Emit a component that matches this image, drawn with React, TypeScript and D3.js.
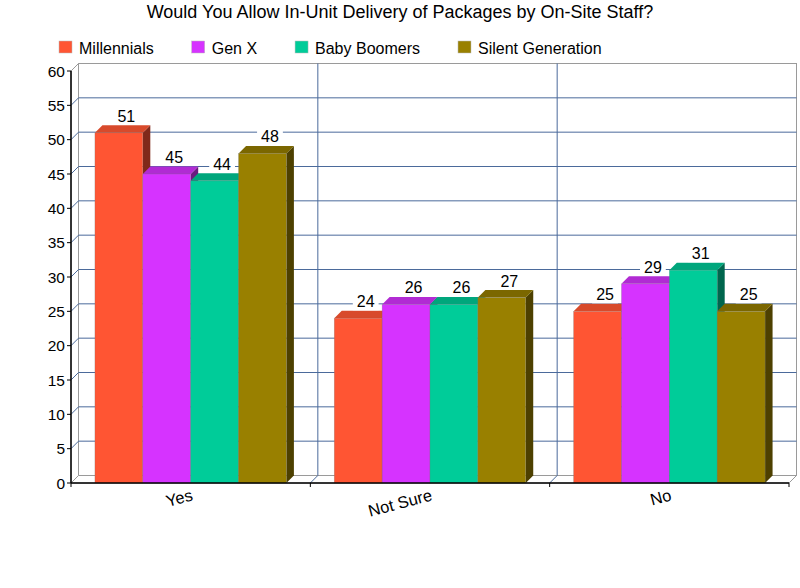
import { scaleBand, scaleLinear, range } from "d3";
import type { ReactElement } from "react";

const categories = ["Yes", "Not Sure", "No"];
const seriesNames = ["Millennials", "Gen X", "Baby Boomers", "Silent Generation"];
const millennials = [51, 24, 25];
const genX = [45, 26, 29];
const babyBoomers = [44, 26, 31];
const silentGeneration = [48, 27, 25];
const yTicks = range(0, 61, 5);

const seriesValues = [millennials, genX, babyBoomers, silentGeneration];

const faceColors = [
  { front: "#FF5533", top: "#D84A2B", side: "#80291A" },
  { front: "#D633FF", top: "#B12BD3", side: "#6B1A80" },
  { front: "#00CC99", top: "#00A67C", side: "#00664D" },
  { front: "#998000", top: "#7B6700", side: "#4D4000" },
];

const FONT = "'Liberation Sans', Arial, Helvetica, sans-serif";
const WIDTH = 800;
const HEIGHT = 588;
const DX = 7.5;
const DY = -7.5;

const plot = { left: 71, right: 789, top: 71, bottom: 483 } as const;

const measure = (text: string, size: number): number => {
  const canvas = document.createElement("canvas");
  const ctx = canvas.getContext("2d");
  if (ctx === null) return text.length * size * 0.55;
  ctx.font = `${size}px ${FONT}`;
  return ctx.measureText(text).width;
};

const pts = (list: Array<[number, number]>): string => list.map((p) => p.join(",")).join(" ");

export default function App(): ReactElement {
  const x0 = scaleBand<string>().domain(categories).range([plot.left, plot.right]).padding(0);
  const bw = x0.bandwidth();
  const x1 = scaleBand<string>()
    .domain(seriesNames)
    .range([bw * 0.1, bw * 0.9])
    .padding(0);
  const y = scaleLinear().domain([0, 60]).range([plot.bottom, plot.top]);

  const boundaries = categories.map((c) => (x0(c) ?? 0) + bw);

  const bars = categories.flatMap((cat, ci) =>
    seriesNames.map((name, si) => {
      const value = seriesValues[si][ci];
      const x = (x0(cat) ?? 0) + (x1(name) ?? 0);
      return { key: `${cat}-${name}`, x, w: x1.bandwidth(), yv: y(value), value, si };
    }),
  );

  // legend layout
  let lx = 59;
  const legend = seriesNames.map((name, i) => {
    const item = { name, x: lx, color: faceColors[i].front };
    lx += 20 + measure(name, 16) + 38;
    return item;
  });

  const gridBlue = "#4B6A9B";
  const wallGray = "#9A9A9A";

  return (
    <svg
      width={WIDTH}
      height={HEIGHT}
      viewBox={`0 0 ${WIDTH} ${HEIGHT}`}
      style={{ position: "absolute", left: 0, top: 0, background: "#ffffff" }}
      fontFamily={FONT}
    >
      <rect x={0} y={0} width={WIDTH} height={HEIGHT} fill="#ffffff" />

      <text x={400} y={18} textAnchor="middle" fontSize={18} fill="#000">
        Would You Allow In-Unit Delivery of Packages by On-Site Staff?
      </text>

      {legend.map((item) => (
        <g key={item.name}>
          <rect x={item.x} y={41} width={13} height={12} fill={item.color} stroke="#bbbbbb" strokeWidth={0.5} />
          <text x={item.x + 20} y={53.5} fontSize={16} fill="#000">
            {item.name}
          </text>
        </g>
      ))}

      {/* walls */}
      <rect
        x={plot.left + DX}
        y={plot.top + DY}
        width={plot.right - plot.left}
        height={plot.bottom - plot.top}
        fill="#ffffff"
        stroke={wallGray}
      />
      <polygon
        points={pts([
          [plot.left, plot.top],
          [plot.left + DX, plot.top + DY],
          [plot.left + DX, plot.bottom + DY],
          [plot.left, plot.bottom],
        ])}
        fill="#ffffff"
        stroke={wallGray}
      />
      <polygon
        points={pts([
          [plot.left, plot.bottom],
          [plot.left + DX, plot.bottom + DY],
          [plot.right + DX, plot.bottom + DY],
          [plot.right, plot.bottom],
        ])}
        fill="#ffffff"
        stroke={wallGray}
      />

      {yTicks
        .filter((t) => t > 0 && t < 60)
        .map((t) => (
          <g key={`grid-${t}`}>
            <line
              x1={plot.left + DX}
              x2={plot.right + DX}
              y1={y(t) + DY}
              y2={y(t) + DY}
              stroke={gridBlue}
              strokeWidth={1}
            />
            <line x1={plot.left} x2={plot.left + DX} y1={y(t)} y2={y(t) + DY} stroke={gridBlue} strokeWidth={1} />
          </g>
        ))}

      {boundaries.map((b, i) => (
        <g key={`vb-${i}`}>
          {i < boundaries.length - 1 && (
            <line x1={b + DX} x2={b + DX} y1={plot.top + DY} y2={plot.bottom + DY} stroke={gridBlue} />
          )}
          <line x1={b} x2={b + DX} y1={plot.bottom} y2={plot.bottom + DY} stroke={i < boundaries.length - 1 ? gridBlue : wallGray} />
          <line x1={b} x2={b} y1={plot.bottom} y2={plot.bottom + 4} stroke="#000" />
        </g>
      ))}

      {/* bars */}
      {bars.map((b) => {
        const c = faceColors[b.si];
        const base = plot.bottom;
        return (
          <g key={b.key}>
            <polygon
              points={pts([
                [b.x + b.w, b.yv],
                [b.x + b.w + DX, b.yv + DY],
                [b.x + b.w + DX, base + DY],
                [b.x + b.w, base],
              ])}
              fill={c.side}
            />
            <polygon
              points={pts([
                [b.x, b.yv],
                [b.x + DX, b.yv + DY],
                [b.x + b.w + DX, b.yv + DY],
                [b.x + b.w, b.yv],
              ])}
              fill={c.top}
            />
            <rect
              x={b.x}
              y={b.yv}
              width={b.w}
              height={base - b.yv}
              fill={c.front}
              stroke="rgba(120,120,120,0.45)"
              strokeWidth={0.6}
            />
          </g>
        );
      })}

      {/* value labels */}
      {bars.map((b) => {
        const label = String(b.value);
        const tw = measure(label, 16);
        const cx = b.x + b.w / 2 + DX;
        const base = b.yv + DY - 3.5;
        return (
          <g key={`lbl-${b.key}`}>
            <rect x={cx - tw / 2 - 4} y={base - 13} width={tw + 8} height={16} fill="#ffffff" />
            <text x={cx} y={base} textAnchor="middle" fontSize={16} fill="#000">
              {label}
            </text>
          </g>
        );
      })}

      {/* axes */}
      <line x1={plot.left} x2={plot.left} y1={plot.top} y2={plot.bottom} stroke="#000" strokeWidth={1.5} />
      <line x1={plot.left} x2={plot.right} y1={plot.bottom} y2={plot.bottom} stroke="#000" strokeWidth={1.5} />
      <line x1={plot.left} x2={plot.left} y1={plot.bottom} y2={plot.bottom + 4} stroke="#000" />

      {yTicks.map((t) => (
        <g key={`yt-${t}`}>
          <line x1={plot.left - 4} x2={plot.left} y1={y(t)} y2={y(t)} stroke="#000" />
          <text x={plot.left - 6} y={y(t) + 5.5} textAnchor="end" fontSize={15.5} fill="#000">
            {t}
          </text>
        </g>
      ))}

      {categories.map((cat) => {
        const cx = (x0(cat) ?? 0) + bw / 2 + 3;
        const cy = 500;
        return (
          <text
            key={`xl-${cat}`}
            x={cx}
            y={cy}
            textAnchor="end"
            fontSize={16.5}
            fill="#000"
            transform={`rotate(-15 ${cx} ${cy})`}
          >
            {cat}
          </text>
        );
      })}
    </svg>
  );
}
